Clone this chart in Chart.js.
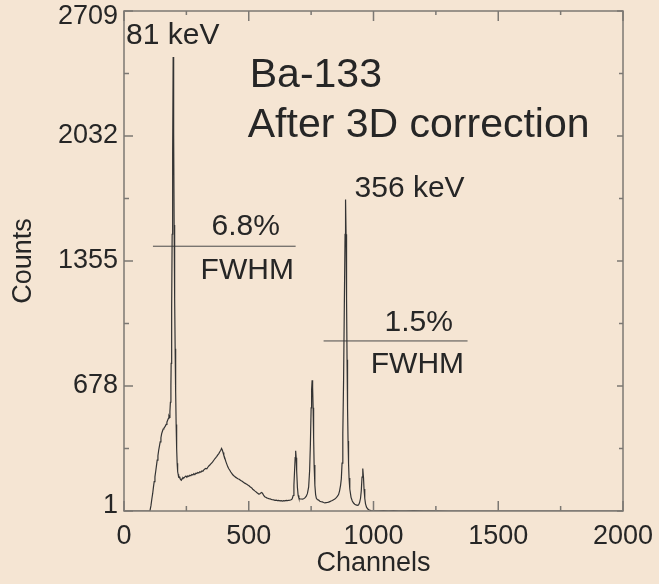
<!DOCTYPE html>
<html>
<head>
<meta charset="utf-8">
<title>Ba-133 spectrum</title>
<script src="https://cdn.jsdelivr.net/npm/chart.js@4/dist/chart.umd.min.js"></script>
<style>
  html, body { margin: 0; padding: 0; background: #f5e5d3; }
  #wrap { width: 659px; height: 584px; }
</style>
</head>
<body>
<div id="wrap"><canvas id="c" width="659" height="584"></canvas></div>
<script>
// Ba-133 pulse-height spectrum (channel, counts)
const channels = [0, 50, 100, 104, 108, 112, 115, 118, 121, 124, 127, 130, 133, 136, 139, 142, 145, 148, 151, 154, 157, 160, 163, 166, 169, 172, 175, 178, 180, 182, 184, 186, 188, 189, 191, 193, 195, 197, 199, 201, 203, 205, 207, 209, 211, 213, 215, 217, 219, 221, 224, 227, 230, 233, 236, 240, 244, 248, 252, 256, 260, 264, 268, 272, 276, 280, 284, 288, 292, 296, 300, 304, 308, 312, 316, 320, 324, 328, 332, 336, 340, 344, 348, 352, 356, 360, 364, 368, 372, 376, 380, 384, 388, 391, 394, 397, 400, 404, 408, 412, 416, 420, 424, 428, 432, 436, 440, 444, 448, 452, 456, 460, 464, 468, 472, 476, 480, 484, 488, 492, 496, 500, 504, 508, 512, 516, 520, 524, 528, 532, 536, 540, 544, 548, 552, 556, 560, 564, 568, 572, 576, 580, 585, 590, 595, 600, 605, 610, 615, 620, 625, 630, 635, 640, 645, 650, 655, 660, 665, 670, 674, 678, 681, 684, 686, 688, 690, 692, 695, 698, 701, 705, 710, 715, 720, 725, 730, 735, 740, 744, 747, 750, 752, 754, 756, 758, 760, 762, 765, 768, 771, 775, 780, 785, 790, 795, 800, 805, 810, 815, 820, 825, 830, 835, 840, 845, 850, 855, 860, 864, 868, 871, 874, 877, 880, 883, 886, 888, 890, 892, 894, 896, 898, 900, 902, 905, 910, 915, 920, 925, 930, 935, 940, 944, 948, 951, 954, 957, 960, 962, 965, 968, 972, 977, 983, 990, 1000, 1020, 1040, 1060, 1080, 1100, 1130, 1160, 1200, 1250, 1300, 1400, 1500, 1600, 1700, 1800, 1900, 2000];
const counts = [1, 1, 1, 2, 30, 70, 96, 130, 160, 186, 215, 245, 276, 300, 330, 352, 375, 398, 420, 433, 445, 450, 455, 462, 470, 482, 493, 503, 515, 508, 540, 590, 680, 800, 1100, 1500, 1950, 2460, 2050, 1550, 1150, 880, 650, 470, 340, 260, 215, 200, 185, 186, 178, 172, 168, 176, 183, 180, 186, 190, 184, 192, 188, 195, 192, 199, 196, 203, 198, 206, 204, 210, 207, 214, 211, 218, 216, 224, 228, 232, 230, 238, 245, 250, 256, 262, 268, 276, 284, 290, 297, 305, 312, 322, 330, 340, 332, 318, 303, 288, 270, 255, 240, 230, 222, 212, 205, 197, 192, 188, 183, 180, 176, 174, 170, 166, 163, 159, 155, 152, 149, 146, 142, 139, 134, 129, 126, 119, 115, 110, 106, 101, 97, 93, 94, 99, 101, 95, 85, 78, 75, 72, 70, 68, 67, 64, 62, 61, 59, 60, 57, 58, 56, 57, 55, 57, 56, 58, 57, 59, 60, 62, 66, 85, 140, 230, 290, 327, 290, 220, 130, 85, 70, 67, 66, 65, 67, 72, 80, 95, 130, 220, 360, 560, 660, 709, 670, 560, 400, 250, 140, 90, 70, 63, 60, 54, 51, 50, 47, 45, 46, 47, 49, 52, 55, 58, 62, 66, 72, 80, 90, 110, 140, 175, 260, 420, 700, 1100, 1500, 1688, 1500, 1150, 820, 560, 380, 260, 180, 120, 75, 55, 44, 38, 34, 32, 34, 45, 70, 110, 185, 231, 180, 120, 70, 40, 22, 12, 6, 3, 2, 2, 3, 2, 3, 2, 2, 3, 2, 2, 1, 1, 1, 1, 1, 1, 1, 1];

// Axis ticks
const xTicks = [0, 500, 1000, 1500, 2000];
const xMinorTicks = [250, 750, 1250, 1750];
const yTicks = [1, 678, 1355, 2032, 2709];
const yMinorTicks = [339.5, 1016.5, 1693.5, 2370.5];

// FWHM marker lines (channel range, count level)
const fwhm81Channels = [116, 688];
const fwhm81Level = 1435;
const fwhm356Channels = [800, 1377];
const fwhm356Level = 922;

// Text labels: [text, channel, counts, align, size]
const labels = [
  ['81 keV', 8, 2530, 'left', 30],
  ['Ba-133', 504, 2298, 'left', 41],
  ['After 3D correction', 496, 2027, 'left', 41],
  ['356 keV', 924, 1701, 'left', 30],
  ['6.8%', 488, 1495, 'center', 30],
  ['FWHM', 494, 1260, 'center', 30],
  ['1.5%', 1181, 976, 'center', 30],
  ['FWHM', 1176, 749, 'center', 30]
];

const FONT = "'Liberation Sans', Arial, Helvetica, sans-serif";
const TEXT = '#262626';
const FRAME = '#7c7873';

const spectrum = channels.map((c, i) => ({ x: c, y: counts[i] }));
const line81 = fwhm81Channels.map(c => ({ x: c, y: fwhm81Level }));
const line356 = fwhm356Channels.map(c => ({ x: c, y: fwhm356Level }));

const backgroundPlugin = {
  id: 'paper',
  beforeDraw(chart) {
    const { ctx, width, height } = chart;
    ctx.save();
    ctx.fillStyle = '#f5e5d3';
    ctx.fillRect(0, 0, width, height);
    ctx.restore();
  }
};

// Box frame with inward-pointing ticks on all four sides,
// plus the count labels, kept inside the frame's height at the ends
const framePlugin = {
  id: 'frame',
  afterDatasetsDraw(chart) {
    const { ctx, chartArea: { left, right, top, bottom }, scales: { x, y } } = chart;
    ctx.save();
    ctx.strokeStyle = FRAME;
    ctx.lineWidth = 1.5;
    ctx.strokeRect(left, top, right - left, bottom - top);
    ctx.beginPath();
    const seg = (x1, y1, x2, y2) => { ctx.moveTo(x1, y1); ctx.lineTo(x2, y2); };
    xTicks.forEach(v => {
      const p = x.getPixelForValue(v);
      seg(p, bottom, p, bottom - 10);
      seg(p, top, p, top + 10);
    });
    xMinorTicks.forEach(v => {
      const p = x.getPixelForValue(v);
      seg(p, bottom, p, bottom - 5);
      seg(p, top, p, top + 4);
    });
    yTicks.forEach(v => {
      const p = y.getPixelForValue(v);
      seg(left, p, left + 9, p);
      seg(right, p, right - 6, p);
    });
    yMinorTicks.forEach(v => {
      const p = y.getPixelForValue(v);
      seg(left, p, left + 5, p);
      seg(right, p, right - 4, p);
    });
    ctx.stroke();

    ctx.fillStyle = TEXT;
    ctx.font = `27px ${FONT}`;
    ctx.textAlign = 'right';
    ctx.textBaseline = 'middle';
    y.ticks.forEach(t => {
      const p = Math.min(Math.max(y.getPixelForValue(t.value), top + 6), bottom - 5);
      ctx.fillText(String(t.value), left - 6, p);
    });
    ctx.restore();
  }
};

const labelPlugin = {
  id: 'labels',
  afterDraw(chart) {
    const { ctx, scales: { x, y } } = chart;
    ctx.save();
    ctx.fillStyle = TEXT;
    ctx.textBaseline = 'alphabetic';
    labels.forEach(([text, cx, cy, align, size]) => {
      ctx.font = `${size}px ${FONT}`;
      ctx.textAlign = align;
      ctx.fillText(text, x.getPixelForValue(cx), y.getPixelForValue(cy));
    });
    ctx.restore();
  }
};

new Chart(document.getElementById('c'), {
  type: 'line',
  data: {
    datasets: [
      { data: spectrum, borderColor: '#333333', borderWidth: 1.2, pointRadius: 0, tension: 0 },
      { data: line81, borderColor: '#4a4a4a', borderWidth: 1, pointRadius: 0 },
      { data: line356, borderColor: '#4a4a4a', borderWidth: 1, pointRadius: 0 }
    ]
  },
  options: {
    responsive: false,
    animation: false,
    events: [],
    layout: { padding: { left: 0, top: 11, right: 36, bottom: 0 } },
    plugins: { legend: { display: false }, tooltip: { enabled: false } },
    scales: {
      x: {
        type: 'linear',
        min: 0,
        max: 2000,
        grid: { display: false, drawTicks: false },
        border: { display: false },
        afterBuildTicks: s => { s.ticks = xTicks.map(v => ({ value: v })); },
        afterFit: s => { s.height = 73; s.paddingLeft = 0; s.paddingRight = 0; },
        ticks: {
          color: TEXT,
          font: { family: FONT, size: 27 },
          padding: 9,
          maxRotation: 0,
          callback: v => String(v)
        },
        title: {
          display: true,
          text: 'Channels',
          color: TEXT,
          font: { family: FONT, size: 27 },
          padding: { top: 0, bottom: 4 }
        }
      },
      y: {
        type: 'linear',
        min: 1,
        max: 2709,
        grid: { display: false, drawTicks: false },
        border: { display: false },
        afterBuildTicks: s => { s.ticks = yTicks.map(v => ({ value: v })); },
        afterFit: s => { s.width = 124; s.paddingTop = 0; s.paddingBottom = 0; },
        ticks: { display: false },
        title: {
          display: true,
          text: 'Counts',
          color: TEXT,
          font: { family: FONT, size: 27 },
          padding: { top: 7, bottom: 0 }
        }
      }
    }
  },
  plugins: [backgroundPlugin, framePlugin, labelPlugin]
});
</script>
</body>
</html>
